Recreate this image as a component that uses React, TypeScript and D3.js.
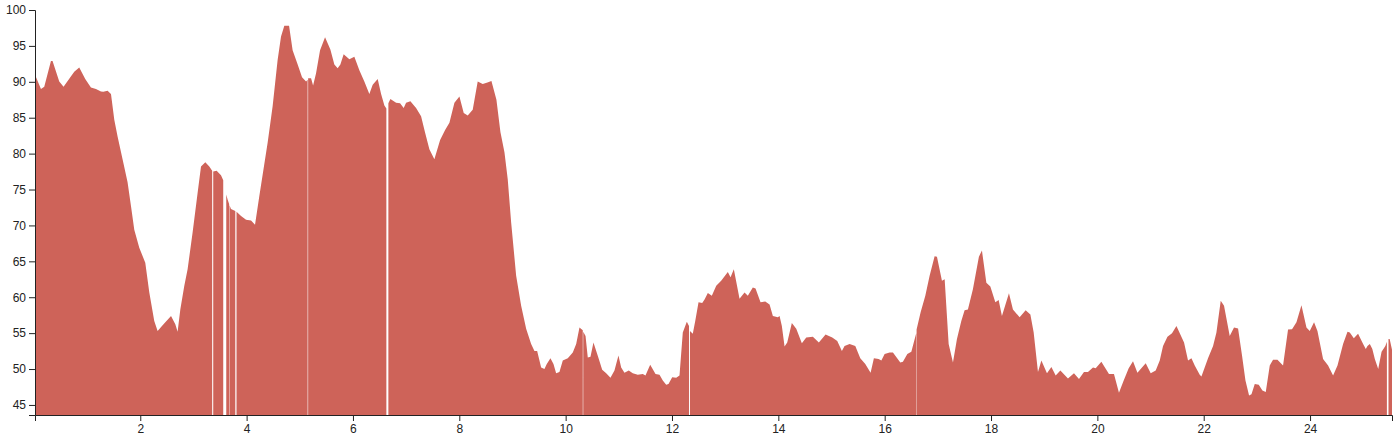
import React, { useEffect, useRef } from "react";
import * as d3 from "d3";

// Sample positions (x) and values (y); null marks a break in the series.
const xValues: (number | null)[] = [
  0.02, 0.132, 0.194, 0.32, 0.35, 0.476, 0.557, 0.758, 0.852, 0.965, 1.072, 1.166, 1.261, 1.304, 1.385, 1.449,
  1.511, 1.573, 1.667, 1.761, 1.825, 1.887, 1.981, 2.094, 2.169, 2.263, 2.326, 2.42, 2.578, 2.659, 2.702, 2.753,
  2.828, 2.89, 2.984, 3.078, 3.142, 3.223, 3.298, 3.352,
  null,
  3.372, 3.436, 3.518, 3.56,
  null,
  3.617, 3.642, 3.671,
  null,
  3.679, 3.706, 3.787,
  null,
  3.81, 3.895, 3.989, 4.083, 4.158, 4.239, 4.395, 4.489, 4.583, 4.647, 4.709, 4.798, 4.865, 4.96, 5.042, 5.118, 5.147,
  null,
  5.157, 5.212, 5.25, 5.306, 5.381, 5.475, 5.575, 5.65, 5.712, 5.763, 5.825, 5.932, 6.026, 6.12, 6.214, 6.308,
  6.371, 6.465, 6.529, 6.591, 6.628,
  null,
  6.666, 6.704, 6.811, 6.886, 6.954, 6.999, 7.08, 7.187, 7.281, 7.357, 7.437, 7.531, 7.639, 7.733, 7.814, 7.908,
  8.002, 8.083, 8.158, 8.252, 8.346, 8.44, 8.529, 8.604, 8.698, 8.773, 8.849, 8.911, 8.975, 9.069, 9.163, 9.257,
  9.351, 9.413, 9.464, 9.539, 9.601, 9.645, 9.714, 9.771, 9.821, 9.883, 9.946, 10.04, 10.134, 10.198, 10.26, 10.322,
  null,
  10.331, 10.374, 10.416, 10.467, 10.523, 10.604, 10.687, 10.762, 10.843, 10.918, 10.993, 11.044, 11.106, 11.187,
  11.262, 11.356, 11.451, 11.501, 11.59, 11.69, 11.765, 11.827, 11.891, 11.934, 12.004, 12.079, 12.141, 12.203,
  12.279, 12.32,
  null,
  12.338, 12.391, 12.437, 12.499, 12.568, 12.612, 12.674, 12.749, 12.832, 12.925, 13.05, 13.101, 13.163, 13.27,
  13.364, 13.426, 13.52, 13.571, 13.665, 13.754, 13.835, 13.897, 13.991, 14.023, 14.066, 14.117, 14.167, 14.254,
  14.337, 14.442, 14.525, 14.649, 14.762, 14.888, 15.014, 15.108, 15.195, 15.245, 15.34, 15.447, 15.541, 15.635,
  15.735, 15.797, 15.886, 15.937, 15.999, 16.093, 16.155, 16.294, 16.343, 16.426, 16.501, 16.593,
  null,
  16.6, 16.676, 16.764, 16.845, 16.939, 16.983, 17.077, 17.128, 17.203, 17.284, 17.359, 17.441, 17.503, 17.565,
  17.659, 17.772, 17.829, 17.912, 17.987, 18.081, 18.143, 18.205, 18.337, 18.412, 18.538, 18.651, 18.74, 18.802,
  18.883, 18.947, 19.052, 19.135, 19.216, 19.304, 19.447, 19.56, 19.654, 19.748, 19.823, 19.918, 19.968, 20.075,
  20.218, 20.312, 20.406, 20.495, 20.589, 20.67, 20.753, 20.909, 21.003, 21.097, 21.173, 21.235, 21.318, 21.404,
  21.487, 21.63, 21.705, 21.769, 21.831, 21.925, 21.957, 22.081, 22.176, 22.239, 22.32, 22.382, 22.489, 22.57,
  22.646, 22.721, 22.785, 22.853, 22.898, 22.96, 23.035, 23.104, 23.167, 23.242, 23.304, 23.387, 23.492, 23.586,
  23.661, 23.744, 23.838, 23.932, 23.994, 24.075, 24.139, 24.245, 24.339, 24.433, 24.516, 24.621, 24.704, 24.747,
  24.823, 24.903, 24.998, 25.048, 25.08, 25.124, 25.171, 25.218, 25.282, 25.345, 25.416, 25.445,
  null,
  25.475, 25.497, 25.541,
];

const yValues: (number | null)[] = [
  91.0, 89.0, 89.3, 92.9, 92.9, 90.05, 89.3, 91.4, 92.0, 90.4, 89.2, 89.0, 88.65, 88.6, 88.75, 88.3,
  84.7, 82.4, 79.2, 76.0, 72.7, 69.4, 66.9, 64.8, 60.7, 56.7, 55.3, 56.1, 57.4, 56.25, 55.2, 58.3,
  61.6, 63.9, 69.0, 74.5, 78.2, 78.8, 78.2, 77.6,
  null,
  77.5, 77.6, 77.0, 76.3,
  null,
  74.3, 73.6, 73.0,
  null,
  72.8, 72.3, 72.0,
  null,
  71.9, 71.3, 70.8, 70.7, 70.1, 74.1, 81.5, 86.6, 93.05, 96.3, 97.8, 97.8, 94.4, 92.4, 90.65, 90.05, 90.3,
  null,
  90.5, 90.5, 89.5, 91.2, 94.4, 96.2, 94.5, 92.4, 91.9, 92.4, 93.85, 93.15, 93.5, 91.6, 90.05, 88.3,
  89.6, 90.4, 88.3, 86.7, 86.3,
  null,
  87.0, 87.6, 87.1, 87.0, 86.35, 87.1, 87.3, 86.35, 85.2, 82.9, 80.6, 79.2, 81.9, 83.3, 84.3, 87.1,
  87.95, 85.65, 85.3, 86.1, 90.05, 89.7, 89.9, 90.1, 87.5, 83.0, 80.2, 76.4, 70.4, 63.0, 58.8, 55.6,
  53.5, 52.5, 52.5, 50.2, 50.0, 50.7, 51.5, 50.7, 49.4, 49.6, 51.2, 51.5, 52.3, 53.5, 55.8, 55.4,
  null,
  55.2, 54.6, 51.6, 51.7, 53.7, 51.85, 49.9, 49.4, 48.8, 49.8, 51.9, 50.2, 49.5, 49.8,
  49.4, 49.2, 49.3, 49.1, 50.6, 49.3, 49.2, 48.4, 47.8, 47.9, 48.85, 48.8, 49.1, 55.1,
  56.6, 56.0,
  null,
  55.3, 54.9, 56.7, 59.3, 59.2, 59.7, 60.6, 60.2, 61.6, 62.3, 63.5, 62.8, 63.9, 59.8,
  60.65, 60.2, 61.35, 61.2, 59.3, 59.4, 59.0, 57.4, 57.2, 57.4, 56.0, 53.15, 53.7, 56.4,
  55.6, 53.6, 54.4, 54.5, 53.7, 54.8, 54.4, 53.9, 52.5, 53.2, 53.5, 53.2, 51.5, 50.7,
  49.5, 51.5, 51.4, 51.2, 52.1, 52.3, 52.3, 50.9, 51.0, 52.1, 52.4, 55.0,
  null,
  55.5, 57.9, 60.2, 63.0, 65.7, 65.65, 62.3, 62.5, 53.5, 50.9, 54.2, 56.7, 58.2, 58.3,
  61.1, 65.65, 66.5, 62.0, 61.5, 59.3, 59.6, 57.4, 60.55, 58.3, 57.2, 58.2, 57.6, 55.1,
  49.6, 51.2, 49.4, 50.3, 49.1, 49.8, 48.7, 49.4, 48.6, 49.6, 49.6, 50.2, 50.1, 51.0,
  49.3, 49.3, 46.7, 48.4, 50.1, 51.1, 49.5, 50.8, 49.4, 49.8, 51.2, 53.2, 54.5, 55.0,
  56.0, 53.7, 51.2, 51.5, 50.5, 49.2, 48.95, 51.5, 53.2, 55.1, 59.5, 58.8, 54.6, 55.8,
  55.65, 51.85, 48.4, 46.3, 46.5, 47.9, 47.8, 47.0, 46.8, 50.5, 51.3, 51.3, 50.5, 55.5,
  55.55, 56.5, 58.9, 55.8, 55.3, 56.5, 55.3, 51.4, 50.5, 49.1, 50.5, 53.5, 55.2, 55.1,
  54.3, 54.9, 53.5, 52.8, 53.2, 53.5, 52.8, 51.4, 50.0, 52.4, 53.2, 53.8,
  null,
  54.2, 54.2, 52.7,
];

const yTickValues = [45, 50, 55, 60, 65, 70, 75, 80, 85, 90, 95, 100];
const xTickValues = [2, 4, 6, 8, 10, 12, 14, 16, 18, 20, 22, 24];
const yDomain: [number, number] = [43.6, 100];

const W = 1397;
const H = 436;
const M = { top: 10, right: 5, bottom: 21, left: 35 };
const FILL = "#ce6359";
const FONT = "'Liberation Sans', Arial, sans-serif";

type Pt = { x: number | null; y: number | null };

export default function App() {
  const xAxisRef = useRef<SVGGElement>(null);
  const yAxisRef = useRef<SVGGElement>(null);

  const points: Pt[] = xValues.map((x, i) => ({ x, y: yValues[i] }));
  const defined = points.filter((p) => p.x != null) as { x: number; y: number }[];
  const xExtent = d3.extent(defined, (d) => d.x) as [number, number];

  const x = d3.scaleLinear().domain(xExtent).range([M.left, W - M.right]);
  const y = d3.scaleLinear().domain(yDomain).range([H - M.bottom, M.top]);

  const area = d3
    .area<Pt>()
    .defined((d) => d.x != null && d.y != null)
    .x((d) => x(d.x as number))
    .y0(y(yDomain[0]))
    .y1((d) => y(d.y as number));

  useEffect(() => {
    if (xAxisRef.current) {
      const g = d3.select(xAxisRef.current);
      g.call(d3.axisBottom(x).tickValues(xTickValues).tickSizeOuter(0).tickSize(6).tickPadding(3));
      g.attr("font-size", 12).attr("font-family", FONT);
      g.selectAll("text").attr("fill", "#222");
      g.selectAll("line,path").attr("stroke", "#222");
    }
    if (yAxisRef.current) {
      const g = d3.select(yAxisRef.current);
      g.call(d3.axisLeft(y).tickValues(yTickValues).tickSizeOuter(0).tickSize(6).tickPadding(3));
      g.attr("font-size", 12).attr("font-family", FONT);
      g.selectAll("text").attr("fill", "#222");
      g.selectAll("line,path").attr("stroke", "#222");
    }
  });

  return (
    <svg
      width={W}
      height={H}
      style={{ position: "absolute", left: 0, top: 0, display: "block", background: "#fff" }}
    >
      <path d={area(points) || ""} fill={FILL} />
      <g ref={xAxisRef} transform={`translate(0,${H - M.bottom})`} />
      <g ref={yAxisRef} transform={`translate(${M.left},0)`} />
    </svg>
  );
}
